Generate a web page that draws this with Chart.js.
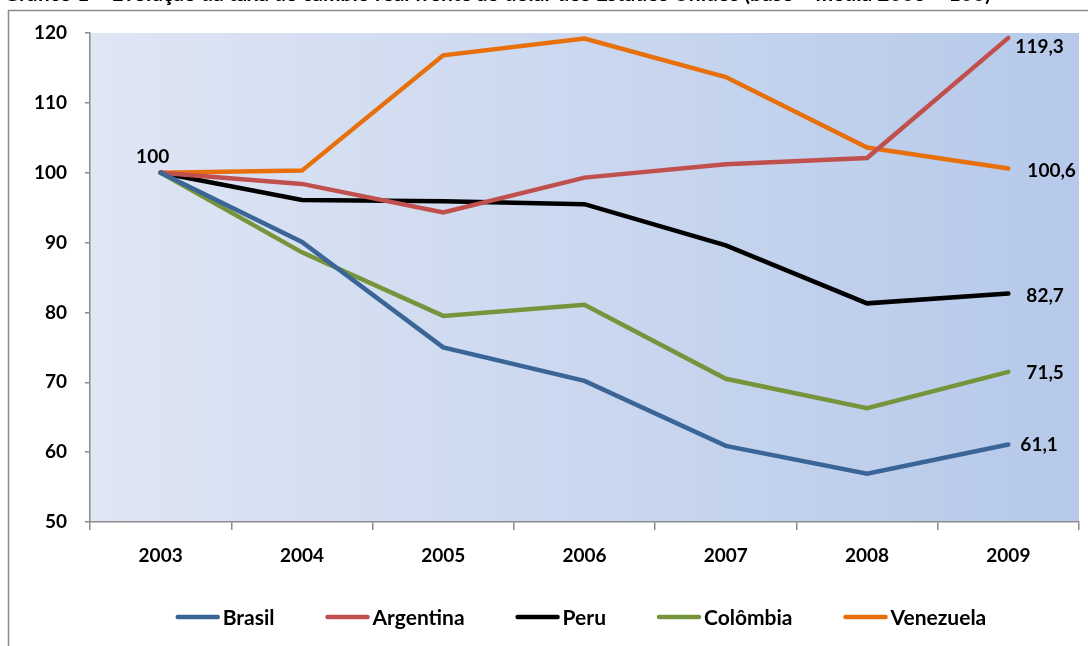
<!DOCTYPE html>
<html>
<head>
<meta charset="utf-8">
<script src="https://cdn.jsdelivr.net/npm/chart.js@4"></script>
<style>
  html, body { margin: 0; padding: 0; background: #fff; }
  #wrap { position: relative; width: 1088px; height: 646px; }
  canvas { display: block; }
</style>
</head>
<body>
<div id="wrap"><canvas id="c" width="1088" height="646"></canvas></div>
<script>
// Real exchange rate index, base 2003 = 100
const years = ['2003', '2004', '2005', '2006', '2007', '2008', '2009'];
const brasil    = [100, 90.1, 75.0, 70.2, 60.9, 56.9, 61.1];
const argentina = [100, 98.4, 94.3, 99.3, 101.2, 102.1, 119.3];
const peru      = [100, 96.1, 95.9, 95.5, 89.6, 81.3, 82.7];
const colombia  = [100, 88.6, 79.5, 81.1, 70.5, 66.3, 71.5];
const venezuela = [100, 100.3, 116.8, 119.2, 113.7, 103.6, 100.6];
const yTicks = [50, 60, 70, 80, 90, 100, 110, 120];
const titleText = 'Gráfico 1 – Evolução da taxa de câmbio real frente ao dólar dos Estados Unidos (base = média 2003 = 100)';

const FONT = 'Lato, "Open Sans", sans-serif';
const fmt = v => String(v).replace('.', ',');

const series = [
  { label: 'Brasil',    data: brasil,    color: '#3b6597' },
  { label: 'Argentina', data: argentina, color: '#c0504d' },
  { label: 'Peru',      data: peru,      color: '#000000' },
  { label: 'Colômbia',  data: colombia,  color: '#76943b' },
  { label: 'Venezuela', data: venezuela, color: '#e8700c' }
];

// Offsets for the end-of-line value labels (relative to last point)
const endLabelShift = { 'Brasil': [12, 0], 'Argentina': [7, 9], 'Peru': [18, 2], 'Colômbia': [18, 1], 'Venezuela': [19, 2] };

const framePlugin = {
  id: 'frame',
  beforeDraw(chart) {
    const { ctx, chartArea: a } = chart;
    ctx.save();
    ctx.fillStyle = '#ffffff';
    ctx.fillRect(0, 0, chart.width, chart.height);
    // outer border
    ctx.strokeStyle = '#8c8c8c';
    ctx.lineWidth = 1.5;
    ctx.beginPath();
    ctx.moveTo(8.5, chart.height + 2);
    ctx.lineTo(8.5, 10.5);
    ctx.lineTo(chart.width + 2, 10.5);
    ctx.stroke();
    // plot background gradient
    const g = ctx.createLinearGradient(a.left, 0, a.right, 0);
    g.addColorStop(0, '#dfe6f4');
    g.addColorStop(1, '#b6c9ea');
    ctx.fillStyle = g;
    ctx.fillRect(a.left, a.top, a.right - a.left, a.bottom - a.top);
    // title, running off the top edge
    ctx.fillStyle = '#000';
    ctx.font = 'bold 21px ' + FONT;
    ctx.textBaseline = 'alphabetic';
    ctx.textAlign = 'left';
    ctx.fillText(titleText, 4, 1);
    ctx.restore();
  },
  afterDatasetsDraw(chart) {
    const { ctx } = chart;
    ctx.save();
    ctx.fillStyle = '#000';
    ctx.font = 'bold 19px ' + FONT;
    ctx.textBaseline = 'middle';
    // base value label at first point
    const p0 = chart.getDatasetMeta(0).data[0];
    ctx.textAlign = 'center';
    ctx.fillText('100', p0.x - 8, p0.y - 16);
    // end labels
    ctx.textAlign = 'left';
    chart.data.datasets.forEach((ds, i) => {
      const meta = chart.getDatasetMeta(i);
      const pt = meta.data[meta.data.length - 1];
      const sh = endLabelShift[ds.label];
      ctx.fillText(fmt(ds.data[ds.data.length - 1]), pt.x + sh[0], pt.y + sh[1]);
    });
    ctx.restore();
  },
  afterDraw(chart) {
    // legend row
    const { ctx } = chart;
    ctx.save();
    ctx.font = 'bold 21px ' + FONT;
    ctx.textBaseline = 'middle';
    ctx.textAlign = 'left';
    const y = 617;
    const lineW = 44, gapText = 3, gapItem = 51;
    let total = 0;
    const widths = chart.data.datasets.map(ds => ctx.measureText(ds.label).width);
    widths.forEach(w => total += lineW + gapText + w);
    total += gapItem * (widths.length - 1);
    let x = 581 - total / 2;
    chart.data.datasets.forEach((ds, i) => {
      ctx.strokeStyle = ds.borderColor;
      ctx.lineWidth = 4.5;
      ctx.lineCap = 'round';
      ctx.beginPath();
      ctx.moveTo(x + 2, y);
      ctx.lineTo(x + lineW - 2, y);
      ctx.stroke();
      ctx.fillStyle = '#000';
      ctx.fillText(ds.label, x + lineW + gapText, y + 1);
      x += lineW + gapText + widths[i] + gapItem;
    });
    ctx.restore();
  }
};

new Chart(document.getElementById('c'), {
  type: 'line',
  data: {
    labels: years,
    datasets: series.map(s => ({
      label: s.label,
      data: s.data,
      borderColor: s.color,
      backgroundColor: s.color,
      borderWidth: 4.5,
      pointRadius: 0,
      tension: 0,
      borderCapStyle: 'round',
      borderJoinStyle: 'miter'
    }))
  },
  options: {
    responsive: false,
    animation: false,
    devicePixelRatio: 1,
    layout: { padding: { left: 0, top: 33, right: 9, bottom: 0 } },
    plugins: {
      legend: { display: false },
      tooltip: { enabled: false },
      title: { display: false }
    },
    scales: {
      x: {
        type: 'category',
        offset: true,
        afterFit(s) { s.height = 124; },
        grid: {
          offset: true,
          drawOnChartArea: false,
          drawTicks: true,
          tickLength: 8,
          color: '#8c8c8c',
          lineWidth: 1.5
        },
        border: { display: true, color: '#8c8c8c', width: 1.5 },
        ticks: {
          color: '#000',
          font: { family: FONT, size: 19, weight: 'bold' },
          padding: 14,
          maxRotation: 0
        }
      },
      y: {
        min: 50,
        max: 120,
        afterFit(s) { s.width = 90; },
        afterBuildTicks(s) { s.ticks = yTicks.map(v => ({ value: v })); },
        grid: {
          drawOnChartArea: false,
          drawTicks: true,
          tickLength: 5,
          color: '#8c8c8c',
          lineWidth: 1.5
        },
        border: { display: true, color: '#8c8c8c', width: 1.5 },
        ticks: {
          color: '#000',
          font: { family: FONT, size: 19, weight: 'bold' },
          padding: 18
        }
      }
    }
  },
  plugins: [framePlugin]
});
</script>
</body>
</html>
